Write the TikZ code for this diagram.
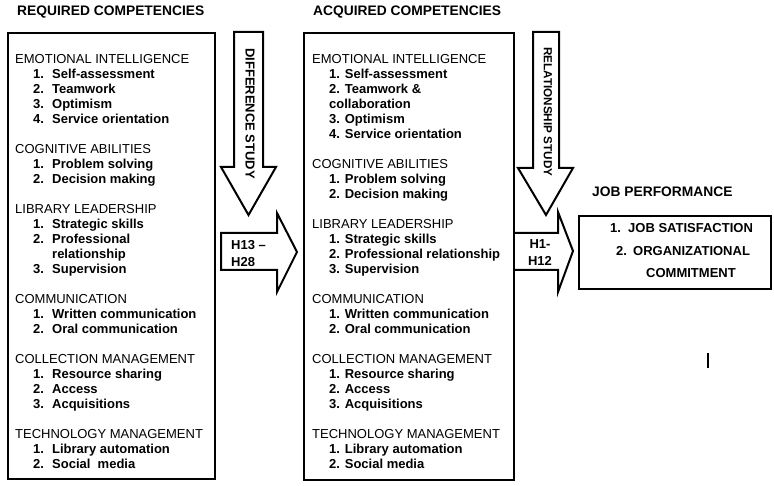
\documentclass[tikz,border=0pt]{standalone}
\usepackage{fontspec}
\setmainfont{Liberation Sans}
\usetikzlibrary{calc}
\newcommand{\ritem}[2]{\hspace*{18pt}\textbf{\makebox[19pt][l]{#1}#2}}
\newcommand{\aitem}[2]{\hspace*{17pt}\textbf{#1 #2}}
\tikzset{
  compbox/.style={draw, line width=2pt, anchor=north west, inner sep=0pt},
  blockarrow/.style={draw, line width=2pt, fill=white, line join=miter},
  title/.style={anchor=base west, inner sep=0pt, font=\fontsize{13.8}{16}\selectfont\bfseries},
  complist/.style={anchor=base west, inner sep=0pt, align=left, font=\fontsize{13}{15}\selectfont},
  vlabel/.style={anchor=west, rotate=-90, inner sep=0pt, font=\bfseries},
  hyplabel/.style={anchor=base west, inner sep=0pt, align=left, font=\fontsize{13}{17}\selectfont\bfseries},
}
\begin{document}
\begin{tikzpicture}[x=1pt,y=-1pt]
            \fill[white] (0,0) rectangle (774,486);
            \useasboundingbox (0,0) rectangle (774,486);
            \node[title] (reqtitle) at (17,16) {REQUIRED COMPETENCIES};
            \node[title] (acqtitle) at (313,16) {ACQUIRED COMPETENCIES};
            \node[title] (jobtitle) at (592,197) {JOB PERFORMANCE};
            \node[compbox, minimum width=207pt, minimum height=446pt] (reqbox) at (7,32) {};
            \node[compbox, minimum width=210pt, minimum height=447pt] (acqbox) at (303,32) {};
            \node[compbox, minimum width=192pt, minimum height=73pt] (jobbox) at (578,215) {};
            %difference study
            \draw[blockarrow] (234,32) -- (263,32) -- (263,167) -- (276,167) -- (248.5,215) -- (221,167) -- (234,167) -- cycle;
            \node[vlabel, font=\fontsize{13}{15}\selectfont\bfseries] (diffstudy) at (250,48) {DIFFERENCE STUDY};
            \draw[blockarrow] (221,233) -- (277,233) -- (277,213) -- (297,252) -- (277,292) -- (277,270) -- (221,270) -- cycle;
            \node[hyplabel] (diffhyp) at (231,267) {H13 --\\H28};
            %relationship study
            \draw[blockarrow] (533,32) -- (559,32) -- (559,168) -- (573,168) -- (546,215) -- (518,168) -- (533,168) -- cycle;
            \node[vlabel, font=\fontsize{11.7}{14}\selectfont\bfseries] (relstudy) at (548,47) {RELATIONSHIP STUDY};
            \draw[blockarrow] (acqbox.north east |- 0,233) -- (558,233) -- (558,212) -- (573,251) -- (558,292) -- (558,270) -- (acqbox.north east |- 0,270);
            \node[hyplabel, align=center, anchor=base] (relhyp) at (540,266) {H1-\\H12};
            %base of a list node = last line
            \node[complist] (reqlist) at (15,468) {EMOTIONAL INTELLIGENCE\\
              \ritem{1.}{Self-assessment}\\
              \ritem{2.}{Teamwork}\\
              \ritem{3.}{Optimism}\\
              \ritem{4.}{Service orientation}\\[15pt]
              COGNITIVE ABILITIES\\
              \ritem{1.}{Problem solving}\\
              \ritem{2.}{Decision making}\\[15pt]
              LIBRARY LEADERSHIP\\
              \ritem{1.}{Strategic skills}\\
              \ritem{2.}{Professional}\\
              \ritem{}{relationship}\\
              \ritem{3.}{Supervision}\\[15pt]
              COMMUNICATION\\
              \ritem{1.}{Written communication}\\
              \ritem{2.}{Oral communication}\\[15pt]
              COLLECTION MANAGEMENT\\
              \ritem{1.}{Resource sharing}\\
              \ritem{2.}{Access}\\
              \ritem{3.}{Acquisitions}\\[15pt]
              TECHNOLOGY MANAGEMENT\\
              \ritem{1.}{Library automation}\\
              \ritem{2.}{Social\ \ media}};
            \node[complist] (acqlist) at (312,468) {EMOTIONAL INTELLIGENCE\\
              \aitem{1.}{Self-assessment}\\
              \aitem{2.}{Teamwork \&}\\
              \hspace*{17pt}\textbf{collaboration}\\
              \aitem{3.}{Optimism}\\
              \aitem{4.}{Service orientation}\\[15pt]
              COGNITIVE ABILITIES\\
              \aitem{1.}{Problem solving}\\
              \aitem{2.}{Decision making}\\[15pt]
              LIBRARY LEADERSHIP\\
              \aitem{1.}{Strategic skills}\\
              \aitem{2.}{Professional relationship}\\
              \aitem{3.}{Supervision}\\[15pt]
              COMMUNICATION\\
              \aitem{1.}{Written communication}\\
              \aitem{2.}{Oral communication}\\[15pt]
              COLLECTION MANAGEMENT\\
              \aitem{1.}{Resource sharing}\\
              \aitem{2.}{Access}\\
              \aitem{3.}{Acquisitions}\\[15pt]
              TECHNOLOGY MANAGEMENT\\
              \aitem{1.}{Library automation}\\
              \aitem{2.}{Social media}};
            \node[complist, font=\fontsize{13}{22.5}\selectfont\bfseries] (joblist) at (610,278) {\makebox[18pt][l]{1.}JOB SATISFACTION\\
              \hspace*{6pt}\makebox[17pt][l]{2.}ORGANIZATIONAL\\
              \hspace*{36pt}COMMITMENT};
            \draw[line width=2pt] (708,353) -- (708,368);
        \end{tikzpicture}
\end{document}
